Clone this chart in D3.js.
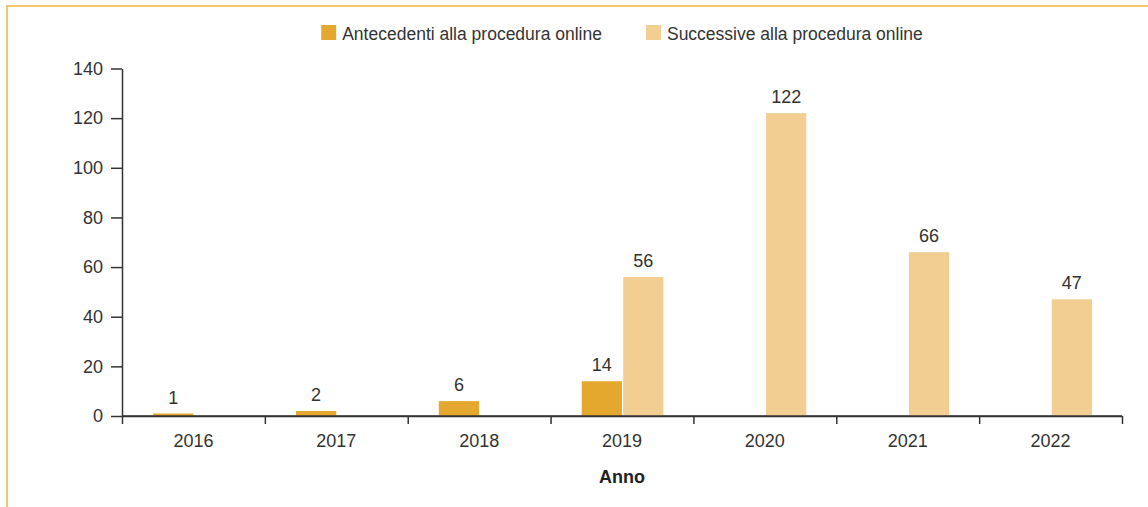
<!DOCTYPE html>
<html>
<head>
<meta charset="utf-8">
<script src="https://cdn.jsdelivr.net/npm/d3@7"></script>
<style>
  body { margin: 0; background: #fff; }
  svg text { font-family: "Liberation Sans", Arial, sans-serif; fill: #333; }
  .axis path, .axis line { stroke: #333; stroke-width: 1.5; }
</style>
</head>
<body>
<div id="chart"></div>
<script>
// data
const years = ["2016", "2017", "2018", "2019", "2020", "2021", "2022"];
const seriesNames = ["Antecedenti alla procedura online", "Successive alla procedura online"];
const antecedenti = [1, 2, 6, 14, 0, 0, 0];
const successive = [0, 0, 0, 56, 122, 66, 47];
const yTicks = [0, 20, 40, 60, 80, 100, 120, 140];
const colors = ["#E5A82E", "#F2CE92"];

const W = 1148, H = 507;
const margin = { top: 68.5, right: 26, bottom: 91, left: 122 };
const width = W - margin.left - margin.right,
  height = H - margin.top - margin.bottom;
const fs = "18px";

const svg = d3.select("#chart").append("svg")
  .attr("width", W).attr("height", H);

// frame (only top and left edges are visible in the picture)
svg.append("path")
  .attr("d", "M7,507V6H1148")
  .attr("fill", "none")
  .attr("stroke", "#F2B33D")
  .attr("stroke-width", 1.5);

const g = svg.append("g")
  .attr("transform", "translate(" + margin.left + "," + margin.top + ")");

const x0 = d3.scaleBand().domain(years).range([0, width]).padding(0);
const bw = x0.bandwidth();
const x1 = d3.scaleBand().domain(seriesNames)
  .range([bw * 0.218, bw * 0.79]).paddingInner(0.03);
const y = d3.scaleLinear().domain([0, 140]).range([height, 0]);

// y axis
g.append("g").attr("class", "axis")
  .call(d3.axisLeft(y).tickValues(yTicks).tickSize(11).tickSizeOuter(0).tickPadding(8))
  .selectAll("text").style("font-size", fs);

// x axis: boundary ticks
const xb = d3.scaleLinear().domain([0, years.length]).range([0, width]);
g.append("g").attr("class", "axis")
  .attr("transform", "translate(0," + height + ")")
  .call(d3.axisBottom(xb).tickValues(d3.range(years.length + 1)).tickFormat("").tickSize(8).tickSizeOuter(0));

// x axis labels
const xl = g.append("g").attr("class", "axis")
  .attr("transform", "translate(0," + height + ")")
  .call(d3.axisBottom(x0).tickSize(0).tickPadding(18));
xl.select(".domain").remove();
xl.selectAll("text").style("font-size", fs);

// bars
const rows = years.map((yr, i) => ({
  year: yr,
  vals: [
    { key: seriesNames[0], v: antecedenti[i], c: colors[0] },
    { key: seriesNames[1], v: successive[i], c: colors[1] }
  ].filter(d => d.v > 0)
}));

const grp = g.selectAll(".yr").data(rows).enter().append("g")
  .attr("transform", d => "translate(" + x0(d.year) + ",0)");

grp.selectAll("rect").data(d => d.vals).enter().append("rect")
  .attr("x", d => x1(d.key))
  .attr("y", d => y(d.v))
  .attr("width", x1.bandwidth())
  .attr("height", d => height - y(d.v))
  .attr("fill", d => d.c);

grp.selectAll("text").data(d => d.vals).enter().append("text")
  .attr("x", d => x1(d.key) + x1.bandwidth() / 2)
  .attr("y", d => y(d.v) - 10)
  .attr("text-anchor", "middle")
  .style("font-size", fs)
  .text(d => d.v);

// redraw x domain on top of bars
g.append("line")
  .attr("x1", 0).attr("x2", width)
  .attr("y1", height).attr("y2", height)
  .attr("stroke", "#333").attr("stroke-width", 1.5);

// axis title
g.append("text")
  .attr("x", width / 2)
  .attr("y", 483 - margin.top)
  .attr("text-anchor", "middle")
  .style("font-size", fs)
  .style("font-weight", "bold")
  .style("fill", "#222")
  .text("Anno");

// legend centered over plot
const leg = svg.append("g");
let lx = 0;
seriesNames.forEach((name, i) => {
  const it = leg.append("g").attr("transform", "translate(" + lx + ",0)");
  it.append("rect").attr("x", 0).attr("y", 25).attr("width", 15).attr("height", 15).attr("fill", colors[i]);
  const t = it.append("text").attr("x", 21).attr("y", 39.5).style("font-size", "17.5px").text(name);
  lx += 21 + t.node().getComputedTextLength() + 44;
});
const lw = lx - 44;
leg.attr("transform", "translate(" + (margin.left + width / 2 - lw / 2) + ",0)");
</script>
</body>
</html>
